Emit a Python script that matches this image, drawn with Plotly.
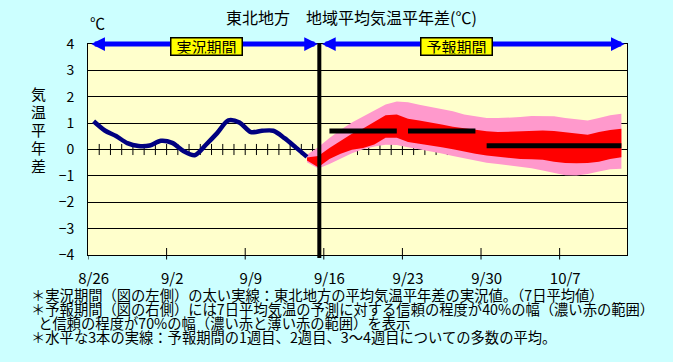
import plotly.graph_objects as go
import pandas as pd

# ---------------- data ----------------
start_date = "2024-08-26"
n_days = 48
dates = pd.date_range(start_date, periods=n_days, freq="D")
tick_labels = ["8/26", "9/2", "9/9", "9/16", "9/23", "9/30", "10/7"]
tick_dates = list(dates[::7])

# observed 7-day mean anomaly (8/26 .. 9/14)
obs = [1.07, 0.72, 0.51, 0.24, 0.13, 0.15, 0.33, 0.25, -0.06, -0.22,
       0.18, 0.62, 1.10, 1.02, 0.66, 0.71, 0.71, 0.43, 0.08, -0.28]

# forecast bands start at index 19
fc_start = 19
p70_hi = [-0.20, 0.09, 0.44, 0.75, 1.02, 1.26, 1.49, 1.71, 1.82, 1.79, 1.70, 1.61, 1.54, 1.45, 1.33,
          1.25, 1.19, 1.19, 1.20, 1.23, 1.27, 1.27, 1.26, 1.19, 1.14, 1.10, 1.19, 1.30, 1.36]
p40_hi = [-0.30, -0.25, 0.06, 0.34, 0.60, 0.80, 1.04, 1.30, 1.33, 1.17, 1.10, 1.03, 0.95, 0.86, 0.80,
          0.74, 0.69, 0.66, 0.67, 0.70, 0.71, 0.72, 0.70, 0.66, 0.60, 0.56, 0.66, 0.74, 0.79]
p40_lo = [-0.42, -0.67, -0.36, -0.16, -0.01, 0.06, 0.19, 0.45, 0.45, 0.28, 0.22, 0.16, 0.09, 0.01, -0.08,
          -0.16, -0.23, -0.27, -0.32, -0.36, -0.37, -0.39, -0.46, -0.51, -0.52, -0.51, -0.46, -0.36, -0.29]
p70_lo = [-0.48, -0.72, -0.55, -0.33, -0.14, 0.01, 0.11, 0.18, 0.17, 0.09, 0.01, -0.06, -0.15, -0.25, -0.34,
          -0.42, -0.50, -0.55, -0.60, -0.65, -0.71, -0.80, -0.90, -0.98, -0.99, -0.93, -0.83, -0.75, -0.73]

# weekly ensemble means: (first index, last index, value)
week_means = [(21, 27, 0.70), (28, 34, 0.70), (35, 47, 0.14)]

divider_index = 20.1      # boundary between observed and forecast periods
y_min, y_max = -4, 4

title_text = "東北地方　地域平均気温平年差(℃)"
ylabel_chars = ["気", "温", "平", "年", "差"]
notes = [
    "＊実況期間（図の左側）の太い実線：東北地方の平均気温平年差の実況値。（7日平均値）",
    "＊予報期間（図の右側）には7日平均気温の予測に対する信頼の程度が40%の幅（濃い赤の範囲）",
    "\u2002と信頼の程度が70%の幅（濃い赤と薄い赤の範囲）を表示",
    "＊水平な3本の実線：予報期間の1週目、2週目、3～4週目についての多数の平均。",
]

# ---------------- styling ----------------
FONT = "Noto Sans CJK JP"
BG = "#CCFFFF"
PLOT_BG = "#FFFFCC"
PINK = "#FF99CC"
RED = "#FF0000"
NAVY = "#000080"
BLUE = "#0000FF"

W, H = 673, 362
ML, MR, MT, MB = 88, 46, 44, 107
PW, PH = W - ML - MR, H - MT - MB


def px_x(px):
    return (px - ML) / PW


def px_y(py):
    return (H - MB - py) / PH


day = pd.Timedelta(days=1)


def at(idx):
    return dates[0] + idx * day


fig = go.Figure()

# daily tick marks along the zero line (drawn first, under the bands)
bx, by = [], []
for i in range(1, n_days):
    b = at(i - 0.5)
    bx += [b, b, None]
    by += [-0.21, 0.21, None]
fig.add_trace(go.Scatter(x=bx, y=by, mode="lines", line=dict(color="black", width=1),
                         hoverinfo="skip", showlegend=False))

fx = list(dates[fc_start:])
fig.add_trace(go.Scatter(x=fx, y=p70_lo, mode="lines", line=dict(width=0, color=PINK),
                         hoverinfo="skip", showlegend=False))
fig.add_trace(go.Scatter(x=fx, y=p70_hi, mode="lines", line=dict(width=0, color=PINK),
                         fill="tonexty", fillcolor=PINK, hoverinfo="skip", showlegend=False))
fig.add_trace(go.Scatter(x=fx, y=p40_lo, mode="lines", line=dict(width=0, color=RED),
                         hoverinfo="skip", showlegend=False))
fig.add_trace(go.Scatter(x=fx, y=p40_hi, mode="lines", line=dict(width=0, color=RED),
                         fill="tonexty", fillcolor=RED, hoverinfo="skip", showlegend=False))

fig.add_trace(go.Scatter(x=list(dates[:len(obs)]), y=obs, mode="lines",
                         line=dict(color=NAVY, width=4.5, shape="spline", smoothing=0.8),
                         hoverinfo="skip", showlegend=False))

for a, b, v in week_means:
    fig.add_trace(go.Scatter(x=[dates[a], dates[b]], y=[v, v], mode="lines",
                             line=dict(color="black", width=5), hoverinfo="skip", showlegend=False))

shapes = []
# divider
shapes.append(dict(type="line", xref="x", yref="paper", x0=at(divider_index), x1=at(divider_index),
                   y0=-3 / PH, y1=1, line=dict(color="black", width=4), layer="above"))
# bottom axis ticks at week boundaries
for k, d in enumerate(tick_dates):
    b = d - 0.5 * day
    y1 = 0 if k == 0 else 7 / PH
    shapes.append(dict(type="line", xref="x", yref="paper", x0=b, x1=b, y0=-4.5 / PH, y1=y1,
                       line=dict(color="black", width=1), layer="above"))

annotations = []


def arrow(i0, i1):
    return dict(x=at(i1), y=y_max, ax=at(i0), ay=y_max, xref="x", yref="y", axref="x", ayref="y",
                text="", showarrow=True, arrowhead=2, startarrowhead=2, arrowside="end+start",
                arrowsize=0.55, startarrowsize=0.55, arrowwidth=5, arrowcolor=BLUE, standoff=0,
                startstandoff=0)


annotations.append(arrow(-0.35, 19.98))
annotations.append(arrow(20.2, 47.3))


def label(text, cx, cy, size, **kw):
    d = dict(x=px_x(cx), y=px_y(cy), xref="paper", yref="paper", text=text, showarrow=False,
             xanchor="center", yanchor="middle", font=dict(family=FONT, size=size, color="black"))
    d.update(kw)
    return d


for lab, cx in [("実況期間", 206.5), ("予報期間", 456)]:
    annotations.append(label(lab, cx, 46, 15, bgcolor="#FFFF00", bordercolor="black", borderwidth=1.5,
                             borderpad=1, width=68, height=14))

annotations.append(label(title_text, 351, 17, 16))
annotations.append(label("℃", 97, 23, 15))
for k, ch in enumerate(ylabel_chars):
    annotations.append(label(ch, 38.5, 93 + 18.2 * k, 15))

# notes block: tight 14 px line pitch (base size sets pitch, spans set glyph size)
note_pitch = 14
note_size = 14.3
notes_html = "<br>".join(f'<span style="font-size:{note_size}px">{t}</span>' for t in notes)
annotations.append(label(notes_html, 29, 315, note_pitch / 1.3, xanchor="left", align="left"))

fig.update_layout(
    width=W, height=H,
    margin=dict(l=ML, r=MR, t=MT, b=MB),
    paper_bgcolor=BG, plot_bgcolor=PLOT_BG,
    showlegend=False,
    shapes=shapes, annotations=annotations,
    font=dict(family=FONT, color="black"),
    xaxis=dict(type="date", range=[at(-0.5), at(n_days - 0.5)], tickvals=tick_dates, ticktext=tick_labels,
               ticks="", showgrid=False, zeroline=False, showline=True, mirror=True,
               linecolor="black", linewidth=1, tickfont=dict(family=FONT, size=15, color="black"),
               ticklabelstandoff=10),
    yaxis=dict(range=[y_min, y_max], tickvals=list(range(y_min, y_max + 1)), ticks="",
               showgrid=True, gridcolor="black", gridwidth=1, zeroline=True, zerolinecolor="black",
               zerolinewidth=1, showline=True, mirror=True, linecolor="black", linewidth=1,
               tickfont=dict(family=FONT, size=14, color="black"), ticklabelstandoff=10),
)

fig.write_html("out.html", config={"displayModeBar": False},
               post_script="document.body.style.margin='0';")
